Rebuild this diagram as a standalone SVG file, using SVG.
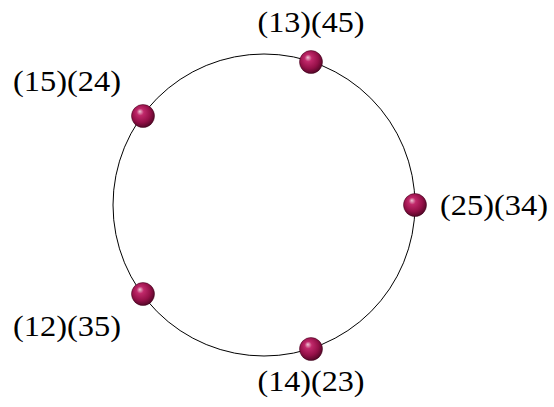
<svg xmlns="http://www.w3.org/2000/svg" width="554" height="407" viewBox="0 0 554 407">
<style>
.lbl{font-family:"Liberation Serif","DejaVu Serif",serif;font-size:29px;fill:#000;text-anchor:middle}
.ball{fill:url(#bg);stroke:#3a0018;stroke-width:0.5}
</style>
<defs>
<radialGradient id="bg" cx="0.45" cy="0.42" r="0.62" fx="0.36" fy="0.3">
<stop offset="0" stop-color="#eec4d4"/>
<stop offset="0.25" stop-color="#c0286a"/>
<stop offset="0.65" stop-color="#951048"/>
<stop offset="1" stop-color="#4a0522"/>
</radialGradient>
</defs>
<rect width="554" height="407" fill="#fff"/>
<g id="connectors">
<circle cx="264" cy="205" r="151" fill="none" stroke="#000" stroke-width="1"/>
</g>
<g id="n1"><circle class="ball" cx="311" cy="62" r="11.5"/><text class="lbl" x="311" y="32" textLength="107" lengthAdjust="spacingAndGlyphs">(13)(45)</text></g>
<g id="n2"><circle class="ball" cx="143" cy="116" r="11.5"/><text class="lbl" x="67" y="91" textLength="108" lengthAdjust="spacingAndGlyphs">(15)(24)</text></g>
<g id="n3"><circle class="ball" cx="415" cy="205" r="11.5"/><text class="lbl" x="494" y="215" textLength="108" lengthAdjust="spacingAndGlyphs">(25)(34)</text></g>
<g id="n4"><circle class="ball" cx="143" cy="294" r="11.5"/><text class="lbl" x="67" y="336" textLength="108" lengthAdjust="spacingAndGlyphs">(12)(35)</text></g>
<g id="n5"><circle class="ball" cx="311" cy="349" r="11.5"/><text class="lbl" x="311" y="391" textLength="107" lengthAdjust="spacingAndGlyphs">(14)(23)</text></g>
</svg>
